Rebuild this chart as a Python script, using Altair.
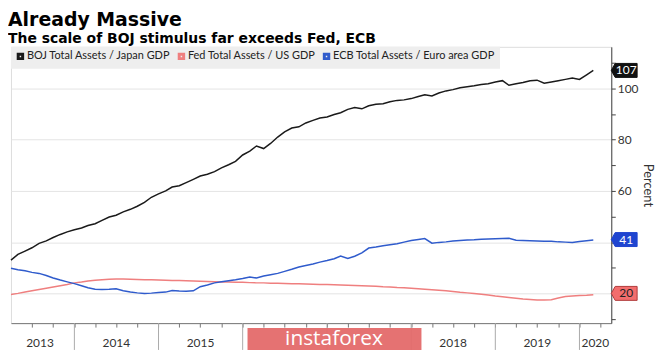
import altair as alt
import pandas as pd

# ---------------- data ----------------
series_names = ["BOJ Total Assets / Japan GDP", "Fed Total Assets / US GDP", "ECB Total Assets / Euro area GDP"]
series_colors = ["#1a1a1a", "#ef7f7f", "#2f5bcc"]

months = pd.date_range("2013-04-01", "2020-03-01", freq="MS").strftime("%Y-%m-%d").tolist()

boj = [33.0, 35.2, 36.5, 37.8, 39.5, 40.5, 41.8, 43.0, 44.0,
       44.8, 45.5, 46.5, 47.2, 48.5, 49.8, 50.5, 51.8, 52.8, 54.0, 55.5, 57.5,
       58.8, 60.0, 61.5, 62.0, 63.2, 64.5, 65.8, 66.5, 67.5, 69.0, 70.2, 71.5,
       74.0, 75.5, 77.5, 76.5, 78.5, 81.0, 83.0, 84.5, 85.0, 86.5, 87.5, 88.4,
       88.8, 89.8, 90.5, 91.8, 92.5, 92.0, 93.2, 93.8, 94.0, 94.8, 95.3, 95.5,
       96.0, 96.8, 97.5, 97.0, 98.2, 99.0, 99.5, 100.2, 100.6, 101.0, 101.5, 101.8,
       102.5, 103.0, 101.2, 101.8, 102.3, 103.0, 103.2, 102.0, 102.5, 103.0, 103.5, 104.0,
       103.5, 105.3, 107.0]

fed = [19.6, 20.0, 20.5, 21.0, 21.5, 22.0, 22.5, 23.0, 23.5,
       24.1, 24.4, 24.8, 25.1, 25.3, 25.5, 25.6, 25.6, 25.5, 25.4, 25.3, 25.3,
       25.2, 25.1, 25.0, 25.0, 24.9, 24.8, 24.7, 24.6, 24.5, 24.4, 24.4, 24.3,
       24.3, 24.2, 24.1, 24.1, 24.0, 24.0, 23.9, 23.8, 23.8, 23.7, 23.6, 23.5,
       23.5, 23.4, 23.3, 23.2, 23.1, 23.0, 22.9, 22.8, 22.6, 22.5, 22.3, 22.2,
       22.0, 21.8, 21.6, 21.4, 21.2, 21.0, 20.7, 20.4, 20.2, 20.0, 19.7, 19.4,
       19.0, 18.7, 18.4, 18.1, 17.8, 17.6, 17.4, 17.4, 17.5, 18.2, 18.8, 19.0,
       19.2, 19.3, 19.5]

ecb = [29.8, 29.2, 28.8, 28.2, 27.8, 27.0, 26.0, 25.2, 24.5,
       23.8, 23.0, 22.2, 21.6, 21.5, 21.6, 21.8, 21.0, 20.5, 20.2, 20.0, 20.1,
       20.3, 20.5, 21.1, 20.9, 20.8, 21.0, 22.6, 23.3, 24.1, 24.5, 24.9, 25.3,
       25.8, 26.4, 26.0, 26.8, 27.3, 27.8, 28.6, 29.4, 30.3, 30.9, 31.5, 32.2,
       32.8, 33.5, 34.6, 33.6, 34.5, 35.8, 37.7, 38.1, 38.6, 39.0, 39.4, 40.0,
       40.6, 41.0, 41.4, 39.6, 39.9, 40.1, 40.4, 40.6, 40.8, 40.9, 41.1, 41.2,
       41.3, 41.4, 41.5, 40.7, 40.6, 40.5, 40.4, 40.3, 40.3, 40.1, 40.0, 39.9,
       40.2, 40.5, 40.8]

tag_values = [107, 20, 41]
tag_labels = ["107", "20", "41"]
tag_fills = ["#111111", "#f26d6d", "#1f45d0"]
tag_strokes = ["#111111", "#b03a3a", "#1f45d0"]
tag_text_colors = ["#ffffff", "#222222", "#ffffff"]

# 2016 and 2017 are hidden under the watermark in the reference
year_labels = ["2013", "2014", "2015", "2018", "2019", "2020"]
year_label_dates = ["2013-08-05", "2014-07-02", "2015-07-02",
                    "2018-07-02", "2019-07-02", "2020-03-10"]
year_starts = ["2014-01-01", "2015-01-01", "2016-01-01", "2017-01-01",
               "2018-01-01", "2019-01-01", "2020-01-01"]
watermark = ["instaforex"]

assert len(months) == len(boj) == len(fed) == len(ecb)

# ---------------- tables ----------------
rows = []
for name, vals in zip(series_names, [boj, fed, ecb]):
    for d, v in zip(months, vals):
        rows.append({"date": d, "value": v, "series": name})
df = pd.DataFrame(rows)

tags = pd.DataFrame({"value": tag_values, "label": tag_labels, "fill": tag_fills,
                     "stroke": tag_strokes, "tcolor": tag_text_colors})
years = pd.DataFrame({"date": year_label_dates, "label": year_labels})
seps = pd.DataFrame({"date": year_starts})
wm = pd.DataFrame({"label": watermark})

W, H = 604, 278

quarters = []
for y in range(2013, 2021):
    for m in (1, 4, 7, 10):
        if (y == 2013 and m < 7) or (y == 2020 and m > 4):
            continue
        quarters.append(alt.DateTime(year=y, month=m, date=1, utc=True))

x_scale = alt.Scale(domain=[alt.DateTime(year=2013, month=4, date=1, utc=True),
                            alt.DateTime(year=2020, month=5, date=18, utc=True)])
x_axis = alt.Axis(values=quarters, labels=False, ticks=True, tickSize=4,
                  tickColor="#777777", domainColor="#777777", grid=False, title=None)


def X():
    return alt.X("date:T", scale=x_scale, axis=x_axis)


y_scale = alt.Scale(domain=[8.4, 116.2], nice=False, zero=False)
# labels at 20 and 40 sit under the value tags in the reference
y_axis = alt.Axis(orient="right", values=list(range(10, 111, 10)),
                  labelExpr="(datum.value % 20 === 0 && datum.value >= 60) ? datum.label : ''",
                  tickSize=4, tickColor="#444444", domainColor="#444444",
                  labelFont="Lato", labelFontSize=12, labelColor="#333333", labelPadding=2,
                  grid=True, gridColor="#e4e4e4",
                  gridOpacity=alt.condition("datum.value % 20 === 0", alt.value(1), alt.value(0)),
                  title="Percent", titleAngle=90, titleFont="Lato", titleFontSize=13,
                  titleFontWeight="normal", titleColor="#333333", titlePadding=3)


def Y():
    return alt.Y("value:Q", scale=y_scale, axis=y_axis)


lines = alt.Chart(df).mark_line(strokeWidth=1.5).encode(
    x=X(), y=Y(),
    color=alt.Color("series:N", sort=series_names,
                    scale=alt.Scale(domain=series_names, range=series_colors),
                    legend=alt.Legend(orient="none", legendX=0, legendY=0, direction="horizontal",
                                      title=None, fillColor="#eeeeee", padding=4,
                                      symbolType="square", symbolSize=20, symbolStrokeWidth=3,
                                      labelFont="Lato", labelFontSize=11, labelColor="#222222",
                                      labelLimit=0, columnPadding=2, labelOffset=1)),
    detail="series:N",
)

tag_shape = "M-1,0L-0.7,-0.54L1,-0.54L1,0.54L-0.7,0.54Z"
tag_pts = alt.Chart(tags).mark_point(shape=tag_shape, size=676, filled=True, opacity=1,
                                     strokeWidth=1).encode(
    x=alt.value(W + 13), y=Y(),
    fill=alt.Fill("fill:N", scale=None),
    stroke=alt.Stroke("stroke:N", scale=None),
)
tag_txt = alt.Chart(tags).mark_text(font="Lato", fontSize=12, align="center", baseline="middle").encode(
    x=alt.value(W + 15), y=Y(), text="label:N",
    color=alt.Color("tcolor:N", scale=None),
)

sep_rules = alt.Chart(seps).mark_rule(color="#aaaaaa", strokeWidth=1).encode(
    x=X(), y=alt.value(H), y2=alt.value(H + 27))

year_txt = alt.Chart(years).mark_text(font="Lato", fontSize=12, color="#333333",
                                      baseline="middle").encode(
    x=X(), y=alt.value(H + 20), text="label:N")

wm_rect = alt.Chart(wm).mark_rect(color="#e46a6a", opacity=0.95).encode(
    x=alt.value(238), x2=alt.value(413), y=alt.value(H + 5), y2=alt.value(H + 27))
wm_txt = alt.Chart(wm).mark_text(font="Open Sans", fontSize=21,
                                 color="white", baseline="middle").encode(
    x=alt.value(325), y=alt.value(H + 16), text="label:N")

chart = alt.layer(lines, sep_rules, year_txt, wm_rect, wm_txt, tag_pts, tag_txt).properties(
    width=W, height=H,
    padding={"left": 0, "top": 2, "right": 3, "bottom": 0},
    title=alt.TitleParams("Already Massive",
                          subtitle=["The scale of BOJ stimulus far exceeds Fed, ECB"],
                          anchor="start", font="DejaVu Sans", fontSize=19, fontWeight="bold",
                          color="black", subtitleFont="DejaVu Sans", subtitleFontSize=14,
                          subtitleFontWeight="bold", subtitleColor="black",
                          subtitlePadding=2, offset=1),
).configure_view(stroke=None).configure(background="white")

chart.save("out.html", embed_options={"renderer": "svg", "actions": False})
